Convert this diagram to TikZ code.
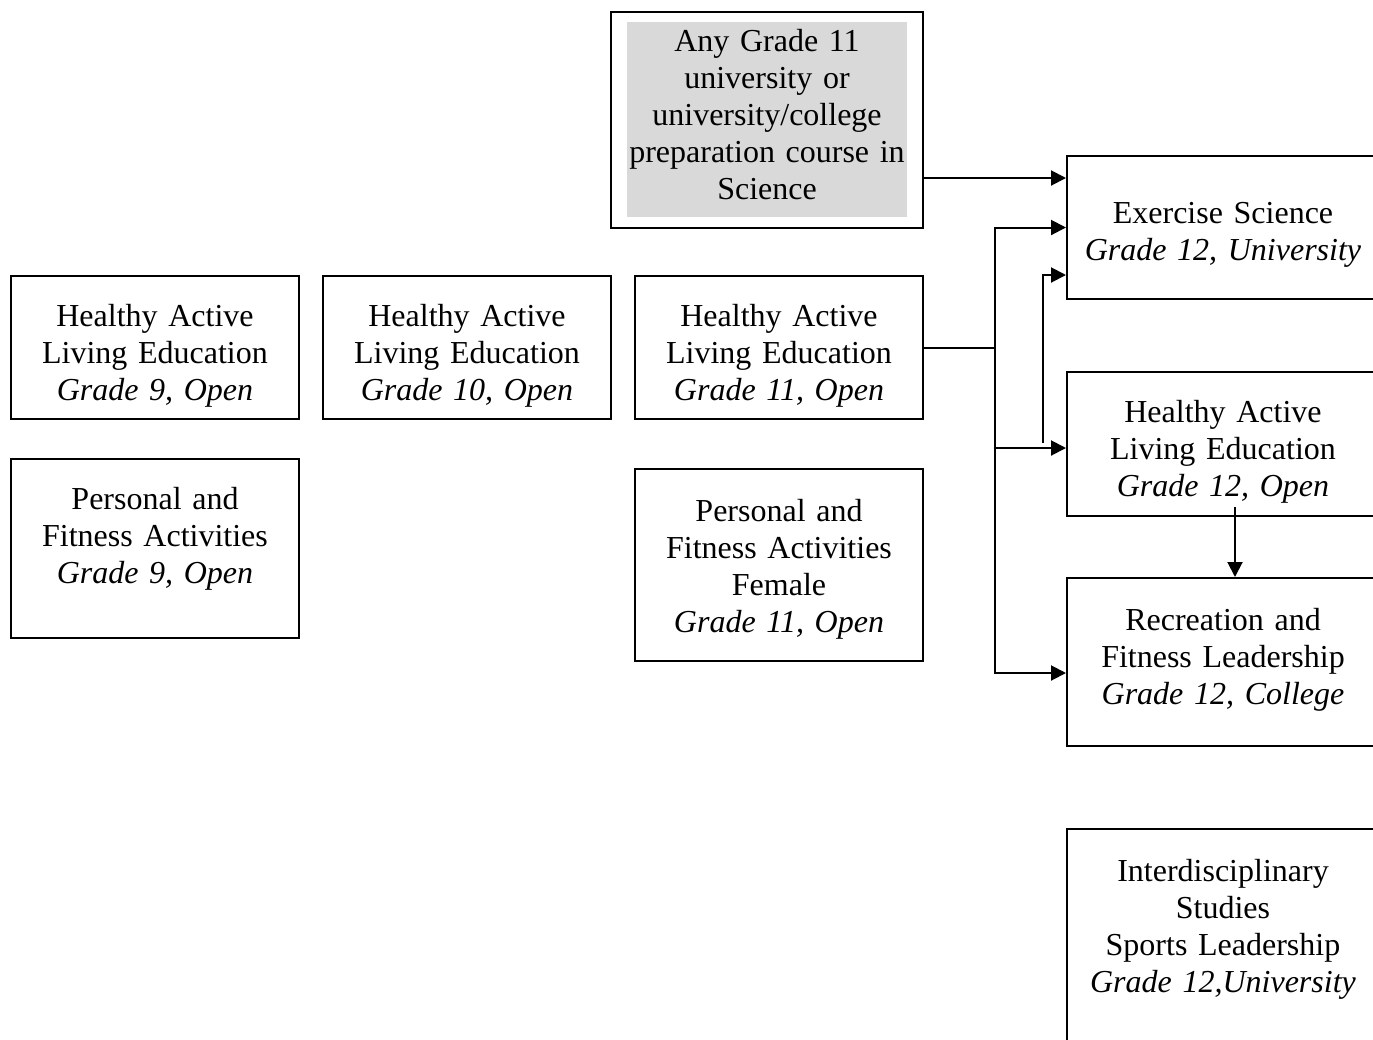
\documentclass[tikz,border=0pt]{standalone}
\usepackage{fontspec}
\setmainfont{Liberation Serif}
\usetikzlibrary{arrows.meta}

\begin{document}
\begin{tikzpicture}[x=0.5pt,y=-0.5pt,
	box/.style={draw,line width=1pt,align=center,inner sep=0pt,anchor=north,text width=144pt,font=\fontsize{16}{18.5}\selectfont},
	wide/.style={text width=156pt},
	arr/.style={line width=1pt,-{Triangle[length=7.5pt,width=7.5pt]}}]
	\useasboundingbox (0,0) rectangle (1373,1040);
	% prerequisite box
	\node[box,wide,text height=19.5pt,text depth=88.5pt,path picture={\fill[gray!30] ([xshift=8pt,yshift=-5pt]path picture bounding box.north west) rectangle ([xshift=-8pt,yshift=5.5pt]path picture bounding box.south east);}] (sci) at (767,11) {Any Grade 11\\university or\\university/college\\preparation course in\\Science};
	% grades 9 to 11
	\node[box,text height=25pt,text depth=46.5pt] (hale9) at (155,275) {Healthy Active\\Living Education\\\textit{Grade 9, Open}};
	\node[box,text height=25pt,text depth=46.5pt] (hale10) at (467,275) {Healthy Active\\Living Education\\\textit{Grade 10, Open}};
	\node[box,text height=25pt,text depth=46.5pt] (hale11) at (779,275) {Healthy Active\\Living Education\\\textit{Grade 11, Open}};
	\node[box,text height=25pt,text depth=64.5pt] (pfa9) at (155,458) {Personal and\\Fitness Activities\\\textit{Grade 9, Open}};
	\node[box,text height=26pt,text depth=70pt] (pfa11) at (779,468) {Personal and\\Fitness Activities\\Female\\\textit{Grade 11, Open}};
	% grade 12
	\node[box,wide,text height=33.5pt,text depth=38pt] (ex) at (1223,155) {Exercise Science\\\textit{Grade 12, University}};
	\node[box,wide,text height=25pt,text depth=47pt] (hale12) at (1223,371) {Healthy Active\\Living Education\\\textit{Grade 12, Open}};
	\node[box,wide,text height=26pt,text depth=58pt] (rec) at (1223,577) {Recreation and\\Fitness Leadership\\\textit{Grade 12, College}};
	\node[box,wide,text height=26pt,text depth=90pt] (inter) at (1223,828) {Interdisciplinary\\Studies\\Sports Leadership\\\textit{Grade 12,University}};
	% connectors
	\coordinate (j) at (hale11.east -| 995,0);
	\coordinate (k) at (1043,443);
	\coordinate (m) at (1235,507);
	\draw[arr] (sci.east |- 0,178) -- (ex.west |- 0,178);
	\draw[line width=1pt] (hale11.east) -- (j);
	\draw[arr] (j) |- (ex.west);
	\draw[arr] (j) |- (hale12.west |- 0,448);
	\draw[arr] (j) |- (rec.west |- 0,673);
	\draw[arr] (k) |- (ex.west |- 0,275);
	\draw[arr] (m) -- (rec.north -| m);
\end{tikzpicture}
\end{document}
